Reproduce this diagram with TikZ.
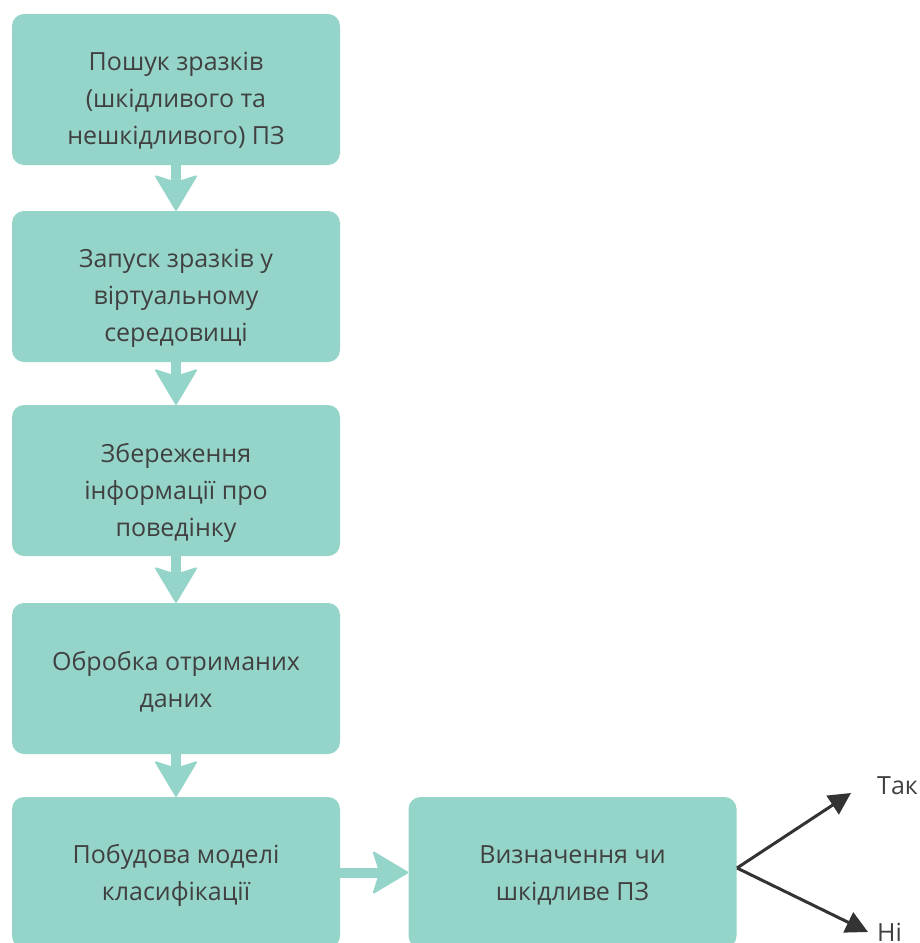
\documentclass[tikz,border=0pt]{standalone}
\usepackage{fontspec}
\setmainfont{Open Sans}
\usetikzlibrary{arrows.meta}
\definecolor{boxfill}{HTML}{95D5C9}
\definecolor{txt}{HTML}{404040}
\definecolor{blk}{HTML}{333333}
\tikzset{
  stepbox/.style={draw=none, fill=boxfill, rounded corners=12pt, minimum width=328pt, minimum height=151pt, inner sep=0pt},
  lbl/.style={text=txt, font=\fontsize{25}{37}\selectfont, align=center},
  tealarrow/.style={draw=boxfill, line width=10pt, -{Stealth[length=37pt, width=44pt, inset=7pt, round, line width=2pt]}},
  blkarrow/.style={draw=blk, line width=3pt, -{Triangle[length=22pt, width=22pt]}},
}
\begin{document}
\begin{tikzpicture}[x=1pt, y=-1pt]
\useasboundingbox (0,0) rectangle (919,943);
\node[stepbox] (b1) at (176,89.5) {};
\node[stepbox] (b2) at (176,286.5) {};
\node[stepbox] (b3) at (176,480.5) {};
\node[stepbox] (b4) at (176,678.5) {};
\node[stepbox] (b5) at (176,872.5) {};
\node[stepbox] (b6) at (572.5,872.5) {};
\node[lbl] (t1) at ([yshift=-11pt]b1.center) {Пошук зразків\\(шкідливого та\\нешкідливого) ПЗ};
\node[lbl] (t2) at ([yshift=-12pt]b2.center) {Запуск зразків у\\віртуальному\\середовищі};
\node[lbl] (t3) at ([yshift=-12pt]b3.center) {Збереження\\інформації про\\поведінку};
\node[lbl] (t4) at ([yshift=-3pt]b4.center) {Обробка отриманих\\даних};
\node[lbl] (t5) at ([yshift=-3pt]b5.center) {Побудова моделі\\класифікації};
\node[lbl] (t6) at ([yshift=-3pt]b6.center) {Визначення чи\\шкідливе ПЗ};
\draw[tealarrow] (b1.south) -- (b2.north);
\draw[tealarrow] (b2.south) -- (b3.north);
\draw[tealarrow] (b3.south) -- (b4.north);
\draw[tealarrow] (b4.south) -- (b5.north);
\draw[tealarrow] (b5.east) -- (b6.west);
\coordinate (s) at (737,868);
\coordinate (yes) at (851,793);
\coordinate (no) at (868,932);
\draw[blkarrow] (s) -- (yes);
\draw[blkarrow] (s) -- (no);
\node[lbl, anchor=west, inner sep=0pt] (tak) at (877,786) {Так};
\node[lbl, anchor=west, inner sep=0pt] (ni) at (877,932) {Ні};
\end{tikzpicture}
\end{document}
